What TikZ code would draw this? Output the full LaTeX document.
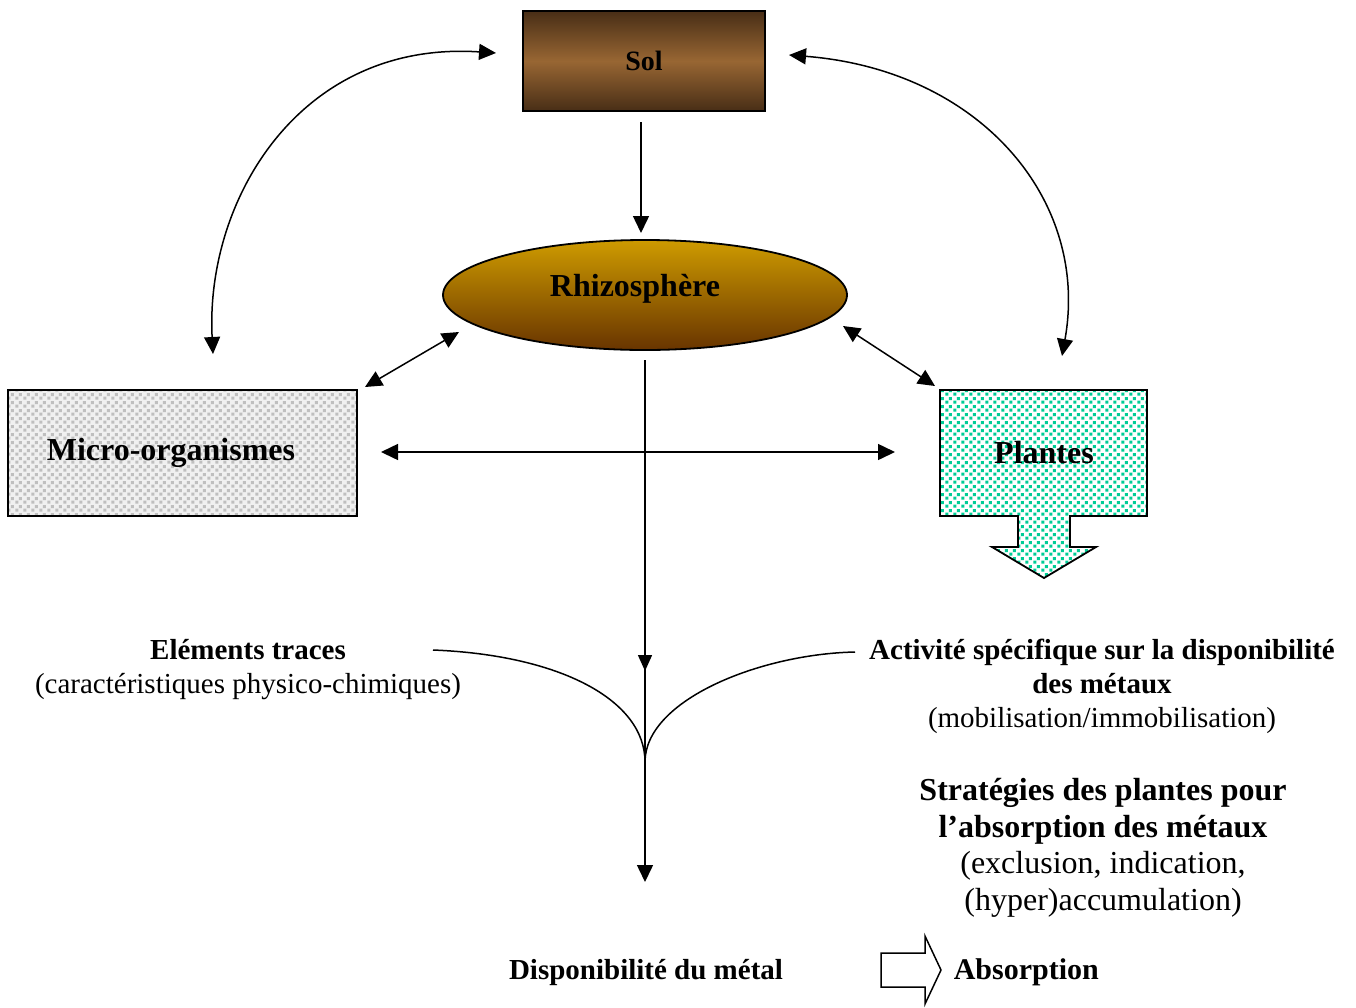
\documentclass[tikz,border=0pt]{standalone}
\usepackage{fontspec}
\setmainfont{Liberation Serif}
\usetikzlibrary{shapes.geometric,arrows.meta,patterns}
\definecolor{solD}{RGB}{72,46,22}
\definecolor{solL}{RGB}{152,102,51}
\definecolor{rhT}{RGB}{206,155,0}
\definecolor{rhB}{RGB}{104,52,0}
\definecolor{plg}{RGB}{0,204,150}
\pgfdeclarepatternformonly{bigdots}{\pgfpointorigin}{\pgfpoint{7.5pt}{7.5pt}}{\pgfpoint{7.5pt}{7.5pt}}{%
  \pgfpathrectangle{\pgfpoint{0.3pt}{0.3pt}}{\pgfpoint{3.2pt}{3.2pt}}%
  \pgfpathrectangle{\pgfpoint{4.05pt}{4.05pt}}{\pgfpoint{3.2pt}{3.2pt}}%
  \pgfusepath{fill}}
\begin{document}
\begin{tikzpicture}[x=1pt,y=-1pt,line width=1.5pt,
  >={Triangle[length=17pt,width=16pt]},
  bigb/.style={font=\fontsize{32}{36}\selectfont\bfseries},
  lab/.style={align=center,font=\fontsize{29}{34}\selectfont},
  labs/.style={align=center,font=\fontsize{32}{36.5}\selectfont},
  txt/.style={inner sep=0pt}]
\useasboundingbox (0,0) rectangle (1356,1007);
% Sol
\node[draw,line width=1.8pt,minimum width=242pt,minimum height=100pt,
  top color=solD,bottom color=solD,middle color=solL,
  font=\fontsize{28}{32}\selectfont\bfseries] (sol) at (644,61) {Sol};
% Rhizosphere
\node[ellipse,draw,line width=1.8pt,minimum width=404pt,minimum height=110pt,inner sep=0pt,
  top color=rhT,bottom color=rhB] (rhizo) at (645,295) {};
\node[txt,bigb] (rhizotxt) at (635,289) {Rhizosphère};
% Micro-organismes
\node[draw,line width=1.8pt,minimum width=349pt,minimum height=126pt,
  preaction={fill=gray!12},pattern=bigdots,pattern color=gray!50] (micro) at (182.5,453) {};
\node[txt,bigb] (microtxt) at (171,453) {Micro-organismes};
% Plantes
\path[draw,line width=1.8pt,preaction={fill=white},pattern=bigdots,pattern color=plg]
  (940,390) -- (1147,390) -- (1147,516) -- (1070,516) -- (1070,547) -- (1096,547)
  -- (1044,578) -- (992,547) -- (1018,547) -- (1018,516) -- (940,516) -- cycle;
\node[txt,bigb] (plantes) at (1044,453) {Plantes};
% coordinates
\coordinate (s1) at (641,122);
\coordinate (r1) at (641,233);
\coordinate (solL) at (496,53);
\coordinate (micT) at (213,354);
\coordinate (solR) at (789,55);
\coordinate (plaT) at (1062,356);
\coordinate (micR) at (365,387);
\coordinate (rhL) at (459,332);
\coordinate (rhR) at (843,326);
\coordinate (plaL) at (935,386);
\coordinate (hL) at (381,452);
\coordinate (hR) at (895,452);
\coordinate (v0) at (645,360);
\coordinate (vm) at (645,671);
\coordinate (vm2) at (645,660);
\coordinate (v1) at (645,882);
\coordinate (cusp) at (645,762);
\coordinate (eL) at (433,650);
\coordinate (eR) at (855,652);
% connectors
\draw[->] (s1) -- (r1);
\draw[<->] (solL) .. controls (300,40) and (205,200) .. (micT);
\draw[<->] (solR) .. controls (980,70) and (1090,200) .. (plaT);
\draw[<->] (micR) -- (rhL);
\draw[<->] (rhR) -- (plaL);
\draw[<->] (hL) -- (hR);
\draw[-{Triangle[length=16pt,width=14pt]}] (v0) -- (vm);
\draw[->] (vm2) -- (v1);
\draw (eL) .. controls (560,655) and (645,700) .. (cusp);
\draw (eR) .. controls (760,654) and (645,700) .. (cusp);
% texts
\node[txt,lab] (elem) at (248,670) {\textbf{Eléments traces}\\(caractéristiques physico-chimiques)};
\node[txt,lab] (activ) at (1102,686) {\textbf{Activité spécifique sur la disponibilité}\\\textbf{des métaux}\\(mobilisation/immobilisation)};
\node[txt,labs] (strat) at (1103,848) {\textbf{Stratégies des plantes pour}\\\textbf{l’absorption des métaux}\\(exclusion, indication,\\(hyper)accumulation)};
\node[txt,font=\fontsize{29}{34}\selectfont\bfseries] (dispo) at (646,972) {Disponibilité du métal};
% block arrow
\draw[line width=1.5pt,fill=white] (881,953) -- (925,953) -- (925,936) -- (941,970) -- (925,1004)
  -- (925,987) -- (881,987) -- cycle;
\node[txt,anchor=west,font=\fontsize{30}{34}\selectfont\bfseries] (absorp) at (953,972) {Absorption};
\end{tikzpicture}
\end{document}
